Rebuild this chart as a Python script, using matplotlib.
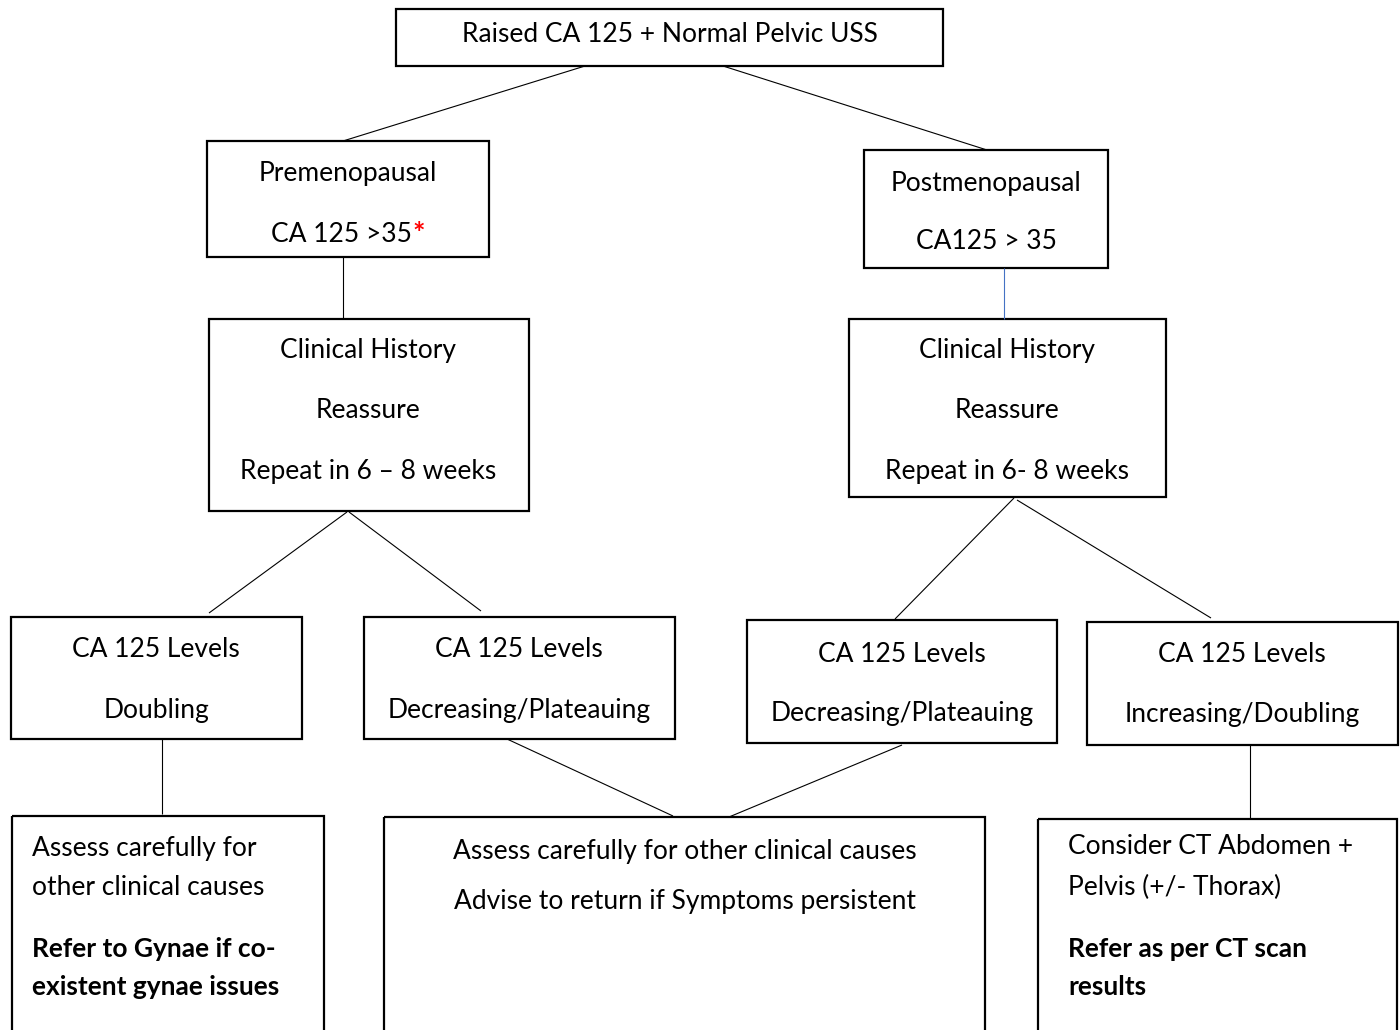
import matplotlib
matplotlib.use("Agg")
import matplotlib.pyplot as plt
from matplotlib.patches import Rectangle

# ---- content ----
top_text = ["Raised CA 125 + Normal Pelvic USS"]
pre_text = ["Premenopausal", "CA 125 >35"]
pre_mark = "*"
post_text = ["Postmenopausal", "CA125 > 35"]
clin_left_text = ["Clinical History", "Reassure", "Repeat in 6 \u2013 8 weeks"]
clin_right_text = ["Clinical History", "Reassure", "Repeat in 6- 8 weeks"]
level_titles = ["CA 125 Levels", "CA 125 Levels", "CA 125 Levels", "CA 125 Levels"]
level_states = ["Doubling", "Decreasing/Plateauing", "Decreasing/Plateauing", "Increasing/Doubling"]
out_left_plain = ["Assess carefully for", "other clinical causes"]
out_left_bold = ["Refer to Gynae if co-", "existent gynae issues"]
out_mid_plain = ["Assess carefully for other clinical causes", "Advise to return if Symptoms persistent"]
out_right_plain = ["Consider CT Abdomen +", "Pelvis (+/- Thorax)"]
out_right_bold = ["Refer as per CT scan", "results"]

FONT = ["Lato", "DejaVu Sans"]
FS = 19
BOX_LW = 1.6
LINK_LW = 0.8
DY = 2  # baseline adjustment

fig = plt.figure(figsize=(14, 10.3), dpi=100)
ax = fig.add_axes([0, 0, 1, 1])
ax.set_xlim(0, 1400)
ax.set_ylim(1030, 0)
ax.axis("off")

def box(x0, y0, x1, y1):
    ax.add_patch(Rectangle((x0, y0), x1 - x0, y1 - y0, fill=False,
                           edgecolor="black", lw=BOX_LW, clip_on=True))

def link(x0, y0, x1, y1, color="black"):
    ax.plot([x0, x1], [y0, y1], color=color, lw=LINK_LW, solid_capstyle="butt")

def txt(x, y, s, ha="center", bold=False, color="black", fs=FS):
    return ax.text(x, y + DY, s, ha=ha, va="baseline", fontsize=fs, family=FONT,
                   fontweight="bold" if bold else "normal", color=color)

# boxes
box(396, 9, 943, 66)
box(207, 141, 489, 257)
box(864, 150, 1108, 268)
box(209, 319, 529, 511)
box(849, 319, 1166, 497)
level_boxes = [(11, 617, 302, 739), (364, 617, 675, 739), (747, 620, 1057, 743), (1087, 622, 1398, 745)]
for b in level_boxes:
    box(*b)
box(12, 816, 324, 1040)
box(384, 817, 985, 1040)
box(1038, 819, 1397, 1040)

# connectors
link(585, 66, 343, 141)
link(723, 66, 987, 150)
link(343, 257, 343, 319)
link(1004, 268, 1004, 319, color="#4472C4")
link(347, 512, 209, 613)
link(349, 512, 481, 611)
link(1014, 498, 895, 619)
link(1017, 500, 1211, 618)
link(162, 739, 162, 814)
link(507, 739, 673, 816)
link(902, 745, 729, 817)
link(1250, 745, 1250, 818)

# texts
txt(670, 40, top_text[0])
txt(348, 179, pre_text[0])
t = txt(0, 240, pre_text[1])
star = txt(0, 240, pre_mark, bold=True, color="#FF0000", fs=FS + 2)
fig.canvas.draw()
r = fig.canvas.get_renderer()
w1 = t.get_window_extent(r).width
w2 = star.get_window_extent(r).width
tot = w1 + w2
t.set_ha("left"); star.set_ha("left")
t.set_x(348 - tot / 2)
star.set_x(348 - tot / 2 + w1)

txt(986, 189, post_text[0])
txt(986, 247, post_text[1])

for s, y in zip(clin_left_text, [356, 416, 477]):
    txt(368, y, s)
for s, y in zip(clin_right_text, [356, 416, 477]):
    txt(1007, y, s)

level_cx = [156, 519, 902, 1242]
level_y = [(655, 716), (655, 716), (660, 719), (660, 720)]
for cx, (ya, yb), a, b in zip(level_cx, level_y, level_titles, level_states):
    txt(cx, ya, a)
    txt(cx, yb, b)

for s, y in zip(out_left_plain, [854, 893]):
    txt(32, y, s, ha="left")
for s, y in zip(out_left_bold, [955, 993]):
    txt(32, y, s, ha="left", bold=True)

for s, y in zip(out_mid_plain, [857, 907]):
    txt(685, y, s)

for s, y in zip(out_right_plain, [852, 893]):
    txt(1068, y, s, ha="left")
for s, y in zip(out_right_bold, [955, 993]):
    txt(1068, y, s, ha="left", bold=True)

fig.savefig("out.png", dpi=100, facecolor="white")
